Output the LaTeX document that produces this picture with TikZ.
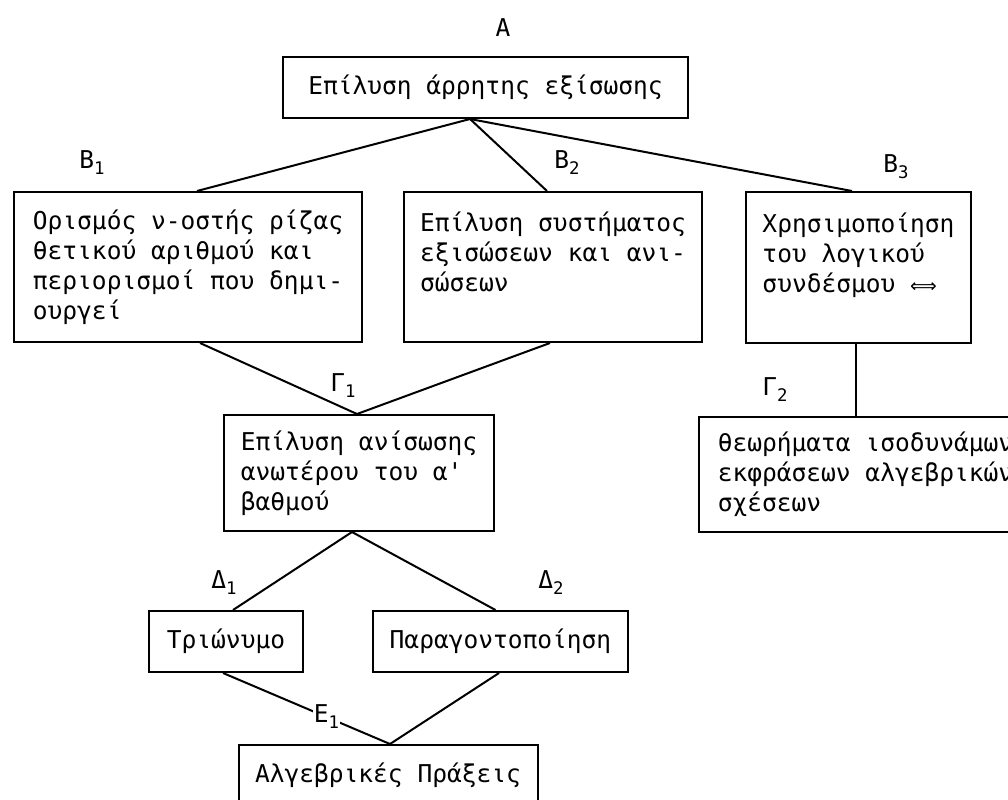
\documentclass[tikz,border=0pt]{standalone}
\usepackage{fontspec}
\newfontfamily\monogreek{DejaVu Sans Mono}
\newfontfamily\arrowfont{DejaVu Sans}
\newcommand{\boxfont}{\monogreek\fontsize{18.4pt}{22.5pt}\selectfont}
\newcommand{\lblsub}[1]{\raisebox{-0.45ex}{\fontsize{13pt}{13pt}\selectfont #1}}

\tikzset{every picture/.style={line width=1.5pt}}
\tikzset{
  conceptbox/.style={draw, inner sep=0pt, align=left, font=\boxfont},
  levellabel/.style={inner sep=1pt, font=\boxfont},
}

\begin{document}
\begin{tikzpicture}[x=0.75pt,y=0.75pt,yscale=-1,xscale=1]
\useasboundingbox (0,0) rectangle (1008,800);

%Shape: Rectangle [A]
\draw (485.5,87.5) node [conceptbox, minimum width=303.75pt, minimum height=45.75pt] (a) {Επίλυση άρρητης εξίσωσης};
%Shape: Rectangle [B1]
\draw (188,267) node [conceptbox, minimum width=261pt, minimum height=112.5pt] (b1) {Ορισμός ν-οστής ρίζας\\θετικού αριθμού και\\περιορισμοί που δημι-\\ουργεί};
%Shape: Rectangle [B2]
\draw (553,267) node [conceptbox, minimum width=223.5pt, minimum height=112.5pt] (b2) {Επίλυση συστήματος\\εξισώσεων και ανι-\\σώσεων\\\mbox{}};
%Shape: Rectangle [B3]
\draw (858.5,267.5) node [conceptbox, minimum width=168.75pt, minimum height=113.25pt] (b3) {Χρησιμοποίηση\\του λογικού\\συνδέσμου {\arrowfont\fontsize{14pt}{14pt}\selectfont ⟺}\\\mbox{}};
%Shape: Rectangle [G1]
\draw (359,473) node [conceptbox, minimum width=202.5pt, minimum height=87pt] (g1) {Επίλυση ανίσωσης\\ανωτέρου του α'\\βαθμού};
%Shape: Rectangle [G2]
\draw (865.5,474.5) node [conceptbox, minimum width=249.75pt, minimum height=86.25pt] (g2) {θεωρήματα ισοδυνάμων\\εκφράσεων αλγεβρικών\\σχέσεων};
%Shape: Rectangle [D1]
\draw (226,641.5) node [conceptbox, minimum width=115.5pt, minimum height=45.75pt] (d1) {Τριώνυμο};
%Shape: Rectangle [D2]
\draw (500.5,641.5) node [conceptbox, minimum width=191.25pt, minimum height=45.75pt] (d2) {Παραγοντοποίηση};
%Shape: Rectangle [E1]
\draw (388,775.5) node [conceptbox, minimum width=224.25pt, minimum height=45.75pt] (e1) {Αλγεβρικές Πράξεις};

%Junction points
\coordinate (a-out) at ([xshift=-11.6pt]a.south);
\coordinate (g1-in) at ([xshift=-1.5pt]g1.north);
\coordinate (g1-out) at ([xshift=-5.25pt]g1.south);
\coordinate (e1-in) at ([xshift=1.5pt]e1.north);

%Straight Lines [A-B]
\draw (a-out) -- ([xshift=6.75pt]b1.north);
\draw (a-out) -- ([xshift=-4.5pt]b2.north);
\draw (a-out) -- ([xshift=-4.9pt]b3.north);
%Straight Lines [B-G]
\draw ([xshift=9pt]b1.south) -- (g1-in);
\draw ([xshift=-2.25pt]b2.south) -- (g1-in);
\draw ([xshift=-1.9pt]b3.south) -- ([xshift=-1.9pt]b3.south |- g2.north);
%Straight Lines [G-D]
\draw (g1-out) -- ([xshift=5.25pt]d1.north);
\draw (g1-out) -- ([xshift=-3.75pt]d2.north);
%Straight Lines [D-E]
\draw ([xshift=-2.25pt]d1.south) -- (e1-in) node [levellabel, fill=white, pos=0.62] (lbl-e1) {Ε\lblsub{1}};
\draw ([xshift=-1.1pt]d2.south) -- (e1-in);

% Text Node
\draw (503,28) node [levellabel] (lbl-a) {Α};
% Text Node
\draw (92,163) node [levellabel] (lbl-b1) {Β\lblsub{1}};
% Text Node
\draw (567,163) node [levellabel] (lbl-b2) {Β\lblsub{2}};
% Text Node
\draw (896,167) node [levellabel] (lbl-b3) {Β\lblsub{3}};
% Text Node
\draw (343,386) node [levellabel] (lbl-g1) {Γ\lblsub{1}};
% Text Node
\draw (775,390) node [levellabel] (lbl-g2) {Γ\lblsub{2}};
% Text Node
\draw (224,583) node [levellabel] (lbl-d1) {Δ\lblsub{1}};
% Text Node
\draw (551,583) node [levellabel] (lbl-d2) {Δ\lblsub{2}};

\end{tikzpicture}
\end{document}
